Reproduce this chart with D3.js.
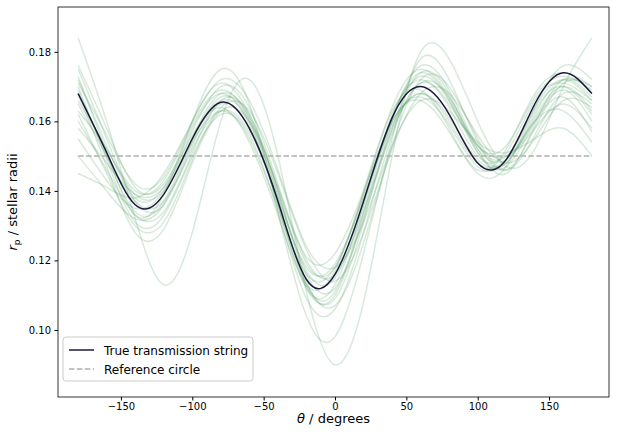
<!DOCTYPE html>
<html><head><meta charset="utf-8">
<script src="https://cdn.jsdelivr.net/npm/d3@7"></script>
<style>body{margin:0;background:#fff}text{font-family:"DejaVu Sans",sans-serif}</style>
</head><body>
<svg id="c" width="623" height="432"></svg>
<script>
// angles (degrees) shared by all curves
var angles = [-180,-160,-140,-120,-100,-80,-60,-40,-20,0,20,40,60,80,100,120,140,160,180];
var trueString = [0.168,0.151,0.136,0.139,0.155,0.1655,0.158,0.137,0.1145,0.116,0.137,0.161,0.170,0.162,0.148,0.149,0.165,0.174,0.168];
var referenceRadius = 0.15;
// posterior sample strings
var samples = [
 [0.172,0.153,0.138,0.141,0.158,0.168,0.159,0.136,0.112,0.113,0.136,0.162,0.172,0.164,0.150,0.151,0.166,0.171,0.166],
 [0.165,0.150,0.137,0.137,0.152,0.163,0.157,0.138,0.118,0.119,0.138,0.159,0.168,0.161,0.149,0.148,0.161,0.170,0.163],
 [0.160,0.146,0.133,0.134,0.151,0.166,0.162,0.140,0.116,0.112,0.132,0.158,0.174,0.168,0.151,0.147,0.160,0.169,0.160],
 [0.176,0.158,0.141,0.142,0.156,0.164,0.154,0.133,0.113,0.117,0.140,0.163,0.169,0.158,0.146,0.152,0.168,0.174,0.170],
 [0.155,0.143,0.135,0.140,0.157,0.170,0.164,0.142,0.120,0.116,0.134,0.157,0.171,0.165,0.153,0.150,0.158,0.165,0.158],
 [0.170,0.149,0.131,0.133,0.150,0.162,0.156,0.134,0.109,0.106,0.128,0.156,0.171,0.167,0.152,0.145,0.159,0.172,0.168],
 [0.163,0.152,0.140,0.143,0.159,0.169,0.161,0.141,0.121,0.122,0.140,0.160,0.166,0.157,0.145,0.147,0.163,0.170,0.162],
 [0.168,0.147,0.128,0.129,0.148,0.163,0.160,0.140,0.114,0.107,0.125,0.153,0.172,0.170,0.155,0.146,0.156,0.168,0.165],
 [0.158,0.148,0.139,0.141,0.155,0.166,0.160,0.139,0.117,0.115,0.136,0.161,0.173,0.166,0.152,0.149,0.160,0.167,0.157],
 [0.175,0.155,0.137,0.136,0.153,0.165,0.158,0.137,0.113,0.109,0.131,0.160,0.176,0.169,0.153,0.150,0.164,0.176,0.172],
 [0.150,0.140,0.132,0.136,0.154,0.167,0.160,0.136,0.112,0.110,0.133,0.158,0.168,0.160,0.148,0.149,0.160,0.163,0.154],
 [0.171,0.156,0.142,0.144,0.160,0.171,0.162,0.141,0.119,0.118,0.139,0.164,0.175,0.167,0.153,0.153,0.167,0.173,0.169],
 [0.162,0.145,0.130,0.131,0.149,0.164,0.163,0.145,0.123,0.114,0.128,0.152,0.168,0.168,0.156,0.148,0.155,0.166,0.164],
 [0.166,0.152,0.139,0.140,0.154,0.163,0.155,0.135,0.116,0.118,0.139,0.160,0.167,0.159,0.147,0.149,0.164,0.172,0.166],
 [0.184,0.160,0.132,0.113,0.128,0.160,0.172,0.150,0.111,0.090,0.108,0.150,0.180,0.178,0.160,0.147,0.152,0.170,0.184],
 [0.145,0.141,0.138,0.145,0.160,0.172,0.166,0.146,0.124,0.118,0.131,0.153,0.166,0.163,0.154,0.151,0.155,0.158,0.150],
 [0.169,0.150,0.134,0.137,0.155,0.168,0.161,0.138,0.113,0.111,0.134,0.161,0.174,0.166,0.151,0.148,0.162,0.172,0.167],
 [0.173,0.151,0.133,0.139,0.160,0.175,0.165,0.134,0.104,0.098,0.122,0.155,0.178,0.172,0.154,0.146,0.158,0.171,0.170]
];
var xTicks = [-150,-100,-50,0,50,100,150];
var yTicks = [0.10,0.12,0.14,0.16,0.18];

var svg = d3.select("#c");
var L = 58, R = 609, T = 7, B = 397;
var x = d3.scaleLinear().domain([-194.1, 192.0]).range([L, R]);
var y = d3.scaleLinear().domain([0.0807, 0.1929]).range([B, T]);

var line = d3.line().x(function(d, i){ return x(angles[i]); }).y(function(d){ return y(d); }).curve(d3.curveNatural);

var plot = svg.append("g");
plot.selectAll(".s").data(samples).enter().append("path")
  .attr("d", line).attr("fill", "none").attr("stroke", "#3d9250")
  .attr("stroke-opacity", 0.2).attr("stroke-width", 1.5);

plot.append("line").attr("x1", x(-180)).attr("x2", x(180))
  .attr("y1", y(referenceRadius)).attr("y2", y(referenceRadius))
  .attr("stroke", "#b0b0b0").attr("stroke-width", 1.5).attr("stroke-dasharray", "5.5,2.4");

plot.append("path").datum(trueString).attr("d", line).attr("fill", "none")
  .attr("stroke", "#1b1a3c").attr("stroke-width", 1.5);

svg.append("rect").attr("x", L).attr("y", T).attr("width", R - L).attr("height", B - T)
  .attr("fill", "none").attr("stroke", "#000").attr("stroke-width", 0.8);

var xa = svg.append("g").attr("transform", "translate(0," + B + ")")
  .call(d3.axisBottom(x).tickValues(xTicks).tickSize(3.5).tickPadding(2.5).tickFormat(function(d){ return d < 0 ? "\u2212" + (-d) : d; }));
var ya = svg.append("g").attr("transform", "translate(" + L + ",0)")
  .call(d3.axisLeft(y).tickValues(yTicks).tickSize(3.5).tickPadding(3.5).tickFormat(d3.format(".2f")));
[xa, ya].forEach(function(a){
  a.select(".domain").remove();
  a.selectAll("text").attr("font-size", 10).attr("fill", "#000");
});

svg.append("text").attr("x", (L + R) / 2).attr("y", 423).attr("text-anchor", "middle").attr("font-size", 13)
  .html('<tspan font-style="italic">θ</tspan> / degrees');
svg.append("text").attr("transform", "translate(17," + ((T + B) / 2) + ") rotate(-90)").attr("text-anchor", "middle").attr("font-size", 13)
  .html('<tspan font-style="italic">r</tspan><tspan font-size="9" dy="3">p</tspan><tspan dy="-3"> / stellar radii</tspan>');

var lg = svg.append("g").attr("transform", "translate(63,337)");
lg.append("rect").attr("width", 190).attr("height", 44).attr("rx", 3).attr("fill", "#fff").attr("fill-opacity", 0.8).attr("stroke", "#ccc");
lg.append("line").attr("x1", 6).attr("x2", 31).attr("y1", 13).attr("y2", 13).attr("stroke", "#1b1a3c").attr("stroke-width", 1.5);
lg.append("text").attr("x", 41).attr("y", 17.5).attr("font-size", 12).text("True transmission string");
lg.append("line").attr("x1", 6).attr("x2", 31).attr("y1", 32).attr("y2", 32).attr("stroke", "#b0b0b0").attr("stroke-width", 1.5).attr("stroke-dasharray", "5.5,2.4");
lg.append("text").attr("x", 41).attr("y", 36.5).attr("font-size", 12).text("Reference circle");
</script>
</body></html>
